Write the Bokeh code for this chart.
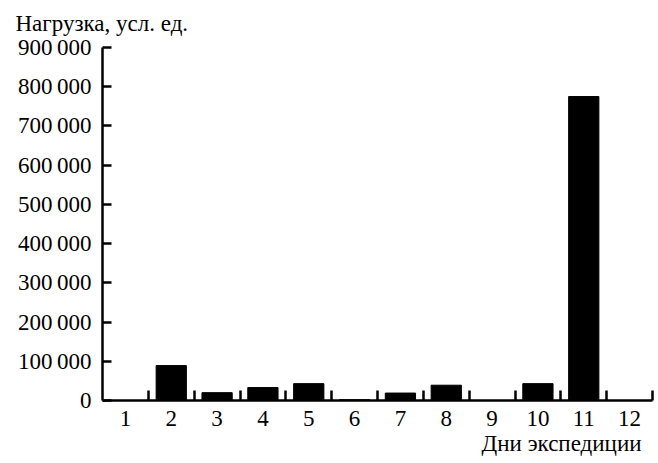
from bokeh.plotting import figure
from bokeh.models import Range1d, FixedTicker, Title
from bokeh.embed import file_html
from bokeh.resources import INLINE

# ---- data ----
days = [1, 2, 3, 4, 5, 6, 7, 8, 9, 10, 11, 12]
load = [0, 89000, 20000, 33000, 43000, 2000, 19000, 39000, 0, 43000, 775000, 0]
y_ticks = [0, 100000, 200000, 300000, 400000, 500000, 600000, 700000, 800000, 900000]
y_tick_labels = ["0", "100\u2009000", "200\u2009000", "300\u2009000", "400\u2009000",
                 "500\u2009000", "600\u2009000", "700\u2009000", "800\u2009000", "900\u2009000"]
day_boundaries = [1.5, 2.5, 3.5, 4.5, 5.5, 6.5, 7.5, 8.5, 9.5, 10.5, 11.5, 12.5]
y_title = "Нагрузка, усл. ед."
x_title = "Дни экспедиции"

FONT = "Liberation Serif"
FS = "23px"

p = figure(width=658, height=463, output_backend="svg", toolbar_location=None,
           x_range=Range1d(0.5, 12.5), y_range=Range1d(0, 900000),
           min_border_left=102, min_border_right=6, min_border_top=47, min_border_bottom=63)
p.outline_line_color = None
p.grid.visible = False
p.background_fill_color = "white"
p.border_fill_color = "white"

p.vbar(x=days, top=load, width=0.66, fill_color="black", line_color="black", line_width=1)

# y axis
ya = p.yaxis[0]
ya.ticker = FixedTicker(ticks=y_ticks)
ya.major_label_overrides = {t: s for t, s in zip(y_ticks, y_tick_labels)}
ya.axis_line_width = 2.5
ya.axis_line_color = "black"
ya.major_tick_in = 9
ya.major_tick_out = 0
ya.major_tick_line_width = 2.5
ya.minor_tick_line_color = None
ya.major_label_standoff = 11
ya.major_label_text_font = FONT
ya.major_label_text_font_size = FS
ya.major_label_text_color = "black"

# x axis
xa = p.xaxis[0]
xa.ticker = FixedTicker(ticks=days, minor_ticks=day_boundaries)
xa.axis_line_width = 2.5
xa.axis_line_color = "black"
xa.major_tick_in = 0
xa.major_tick_out = 0
xa.minor_tick_in = 10
xa.minor_tick_out = 0
xa.minor_tick_line_width = 2.5
xa.minor_tick_line_color = "black"
xa.major_label_standoff = 10
xa.major_label_text_font = FONT
xa.major_label_text_font_size = FS
xa.major_label_text_color = "black"

t = p.title
t.text = y_title
t.align = "left"
t.vertical_align = "top"
t.offset = -87
t.standoff = 19
t.text_font = FONT
t.text_font_size = FS
t.text_font_style = "normal"
t.text_color = "black"

p.add_layout(Title(text=x_title, align="right", offset=11, standoff=0,
                   text_font=FONT, text_font_size=FS, text_font_style="normal",
                   text_color="black"), "below")

open("out.html", "w").write(file_html(p, INLINE))
